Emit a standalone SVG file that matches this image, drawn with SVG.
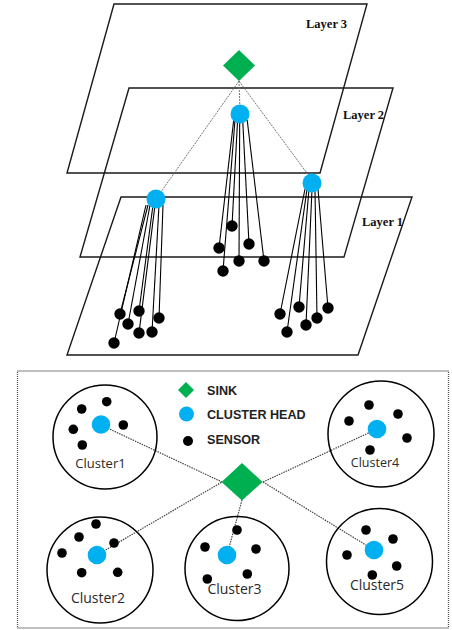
<svg xmlns="http://www.w3.org/2000/svg" width="452" height="630" viewBox="0 0 452 630">
<style>
.layer{fill:none;stroke:#1a1a1a;stroke-width:1.4;stroke-linejoin:miter}
.lbl{font-family:"Liberation Serif","Times New Roman",serif;font-weight:bold;font-size:12.5px;fill:#111}
.sink{fill:#00b050}
.ch{fill:#00b0f0}
.sen{fill:#000}
.wire{stroke:#000;stroke-width:1.1;fill:none}
.dot{stroke:#666;stroke-width:0.9;stroke-dasharray:2 1;fill:none}
.bdot{stroke:#444;stroke-width:1.2;stroke-dasharray:1.5 1;fill:none}
.ring{fill:none;stroke:#000;stroke-width:1.5}
.cl{font-family:"Open Sans","Liberation Sans",Arial,sans-serif;fill:#2a2a2a;text-anchor:middle}
.leg{font-family:"Liberation Sans",Arial,sans-serif;font-weight:bold;font-size:12.6px;fill:#222}
.frame{fill:none;stroke:#555;stroke-width:1.3;stroke-dasharray:1 1}
</style>

<!-- Layers -->
<g id="layer3">
  <polygon class="layer" points="114,4 367,4 320,173 67,173"/>
  <text class="lbl" x="306" y="28">Layer 3</text>
</g>
<g id="layer2">
  <polygon class="layer" points="129,88 393,88 344,257 80,257"/>
  <text class="lbl" x="343" y="119">Layer 2</text>
</g>
<g id="layer1">
  <polygon class="layer" points="121,197 412,197 358,355 67,355"/>
  <text class="lbl" x="362" y="226">Layer 1</text>
</g>

<!-- Top connectors -->
<g id="top-connectors">
  <line class="dot" x1="239" y1="81" x2="240" y2="110"/>
  <line class="dot" x1="239" y1="81" x2="156" y2="199"/>
  <line class="dot" x1="239" y1="81" x2="312" y2="180"/>
  <!-- middle CH wires -->
  <line class="wire" x1="237.6" y1="120" x2="232" y2="226"/>
  <line class="wire" x1="233.7" y1="120" x2="219" y2="248"/>
  <line class="wire" x1="242.7" y1="120" x2="249" y2="244"/>
  <line class="wire" x1="239.7" y1="120" x2="239" y2="261"/>
  <line class="wire" x1="247.2" y1="120" x2="264" y2="261"/>
  <line class="wire" x1="235" y1="120" x2="223" y2="271"/>
  <!-- left CH wires -->
  <line class="wire" x1="148" y1="205" x2="120" y2="314"/>
  <line class="wire" x1="146" y1="205" x2="114" y2="343"/>
  <line class="wire" x1="150" y1="205" x2="128" y2="324"/>
  <line class="wire" x1="153" y1="205" x2="139" y2="311"/>
  <line class="wire" x1="155" y1="205" x2="139" y2="333"/>
  <line class="wire" x1="159" y1="205" x2="152" y2="332"/>
  <line class="wire" x1="163" y1="205" x2="159" y2="318"/>
  <!-- right CH wires -->
  <line class="wire" x1="305" y1="189" x2="280" y2="314"/>
  <line class="wire" x1="307" y1="189" x2="287" y2="332"/>
  <line class="wire" x1="309" y1="189" x2="299" y2="307"/>
  <line class="wire" x1="312" y1="189" x2="306" y2="325"/>
  <line class="wire" x1="315" y1="189" x2="317" y2="318"/>
  <line class="wire" x1="318" y1="189" x2="328" y2="308"/>
</g>

<g id="top-sink"><polygon class="sink" points="239,50 255,65.5 239,81 223,65.5"/></g>
<g id="top-ch-mid"><circle class="ch" cx="240" cy="114" r="9.5"/></g>
<g id="top-ch-left"><circle class="ch" cx="156" cy="199" r="9.5"/></g>
<g id="top-ch-right"><circle class="ch" cx="312" cy="183" r="9.5"/></g>

<g id="top-sensors-mid">
  <circle class="sen" cx="232" cy="226" r="5.7"/>
  <circle class="sen" cx="219" cy="248" r="5.7"/>
  <circle class="sen" cx="249" cy="244" r="5.7"/>
  <circle class="sen" cx="239" cy="261" r="5.7"/>
  <circle class="sen" cx="264" cy="261" r="5.7"/>
  <circle class="sen" cx="223" cy="271" r="5.7"/>
</g>
<g id="top-sensors-left">
  <circle class="sen" cx="120" cy="314" r="5.7"/>
  <circle class="sen" cx="139" cy="311" r="5.7"/>
  <circle class="sen" cx="128" cy="324" r="5.7"/>
  <circle class="sen" cx="159" cy="318" r="5.7"/>
  <circle class="sen" cx="139" cy="333" r="5.7"/>
  <circle class="sen" cx="152" cy="332" r="5.7"/>
  <circle class="sen" cx="114" cy="343" r="5.7"/>
</g>
<g id="top-sensors-right">
  <circle class="sen" cx="280" cy="314" r="5.7"/>
  <circle class="sen" cx="299" cy="307" r="5.7"/>
  <circle class="sen" cx="328" cy="308" r="5.7"/>
  <circle class="sen" cx="287" cy="332" r="5.7"/>
  <circle class="sen" cx="306" cy="325" r="5.7"/>
  <circle class="sen" cx="317" cy="318" r="5.7"/>
</g>

<!-- Bottom panel -->
<rect class="frame" x="17.5" y="371" width="431" height="257"/>

<g id="legend">
  <polygon class="sink" points="186,382 194,390 186,398 178,390"/>
  <text class="leg" x="207" y="395">SINK</text>
  <circle class="ch" cx="186.5" cy="414" r="7.5"/>
  <text class="leg" x="207" y="419">CLUSTER HEAD</text>
  <circle class="sen" cx="188" cy="441" r="5"/>
  <text class="leg" x="207" y="444">SENSOR</text>
</g>

<g id="bottom-connectors">
  <line class="bdot" x1="101" y1="425" x2="222" y2="482"/>
  <line class="bdot" x1="97" y1="555" x2="222" y2="482"/>
  <line class="bdot" x1="263" y1="482" x2="377" y2="429"/>
  <line class="bdot" x1="263" y1="482" x2="374" y2="550"/>
  <line class="bdot" x1="242" y1="500" x2="227" y2="555"/>
</g>

<g id="bottom-sink"><polygon class="sink" points="242,463 262.5,482 242,500.5 221.5,482"/></g>

<g id="cluster1">
  <circle class="ring" cx="105" cy="437" r="52"/>
  <circle class="ch" cx="101" cy="424.5" r="9.3"/>
  <circle class="sen" cx="106.7" cy="401.7" r="4.8"/>
  <circle class="sen" cx="81.7" cy="409" r="4.8"/>
  <circle class="sen" cx="73.3" cy="429.3" r="4.8"/>
  <circle class="sen" cx="123.3" cy="425" r="4.8"/>
  <circle class="sen" cx="82.3" cy="445" r="4.8"/>
  <text class="cl" x="100.5" y="468" font-size="13">Cluster1</text>
</g>
<g id="cluster4">
  <circle class="ring" cx="381" cy="434" r="53"/>
  <circle class="ch" cx="377" cy="429" r="9.3"/>
  <circle class="sen" cx="369" cy="405" r="4.8"/>
  <circle class="sen" cx="349" cy="421" r="4.8"/>
  <circle class="sen" cx="398" cy="414" r="4.8"/>
  <circle class="sen" cx="407" cy="438" r="4.8"/>
  <circle class="sen" cx="370" cy="450" r="4.8"/>
  <text class="cl" x="375" y="467" font-size="12.5">Cluster4</text>
</g>
<g id="cluster2">
  <circle class="ring" cx="100" cy="570" r="53"/>
  <circle class="ch" cx="97" cy="555" r="9.3"/>
  <circle class="sen" cx="96" cy="524" r="4.8"/>
  <circle class="sen" cx="79" cy="537" r="4.8"/>
  <circle class="sen" cx="114" cy="543" r="4.8"/>
  <circle class="sen" cx="62" cy="553" r="4.8"/>
  <circle class="sen" cx="81.7" cy="572.7" r="4.8"/>
  <circle class="sen" cx="117.7" cy="572.3" r="4.8"/>
  <text class="cl" x="98" y="603" font-size="14">Cluster2</text>
</g>
<g id="cluster3">
  <circle class="ring" cx="237" cy="568.5" r="52"/>
  <circle class="ch" cx="227" cy="555" r="9.3"/>
  <circle class="sen" cx="237" cy="530" r="4.8"/>
  <circle class="sen" cx="205" cy="547" r="4.8"/>
  <circle class="sen" cx="256" cy="549" r="4.8"/>
  <circle class="sen" cx="207.3" cy="579" r="4.8"/>
  <circle class="sen" cx="247.3" cy="574" r="4.8"/>
  <text class="cl" x="234.5" y="594" font-size="14">Cluster3</text>
</g>
<g id="cluster5">
  <circle class="ring" cx="379.5" cy="561.5" r="53"/>
  <circle class="ch" cx="374" cy="550" r="9.3"/>
  <circle class="sen" cx="366" cy="530" r="4.8"/>
  <circle class="sen" cx="393" cy="539" r="4.8"/>
  <circle class="sen" cx="347" cy="555" r="4.8"/>
  <circle class="sen" cx="396.7" cy="566" r="4.8"/>
  <circle class="sen" cx="372.3" cy="575" r="4.8"/>
  <text class="cl" x="377" y="590" font-size="14">Cluster5</text>
</g>
</svg>
